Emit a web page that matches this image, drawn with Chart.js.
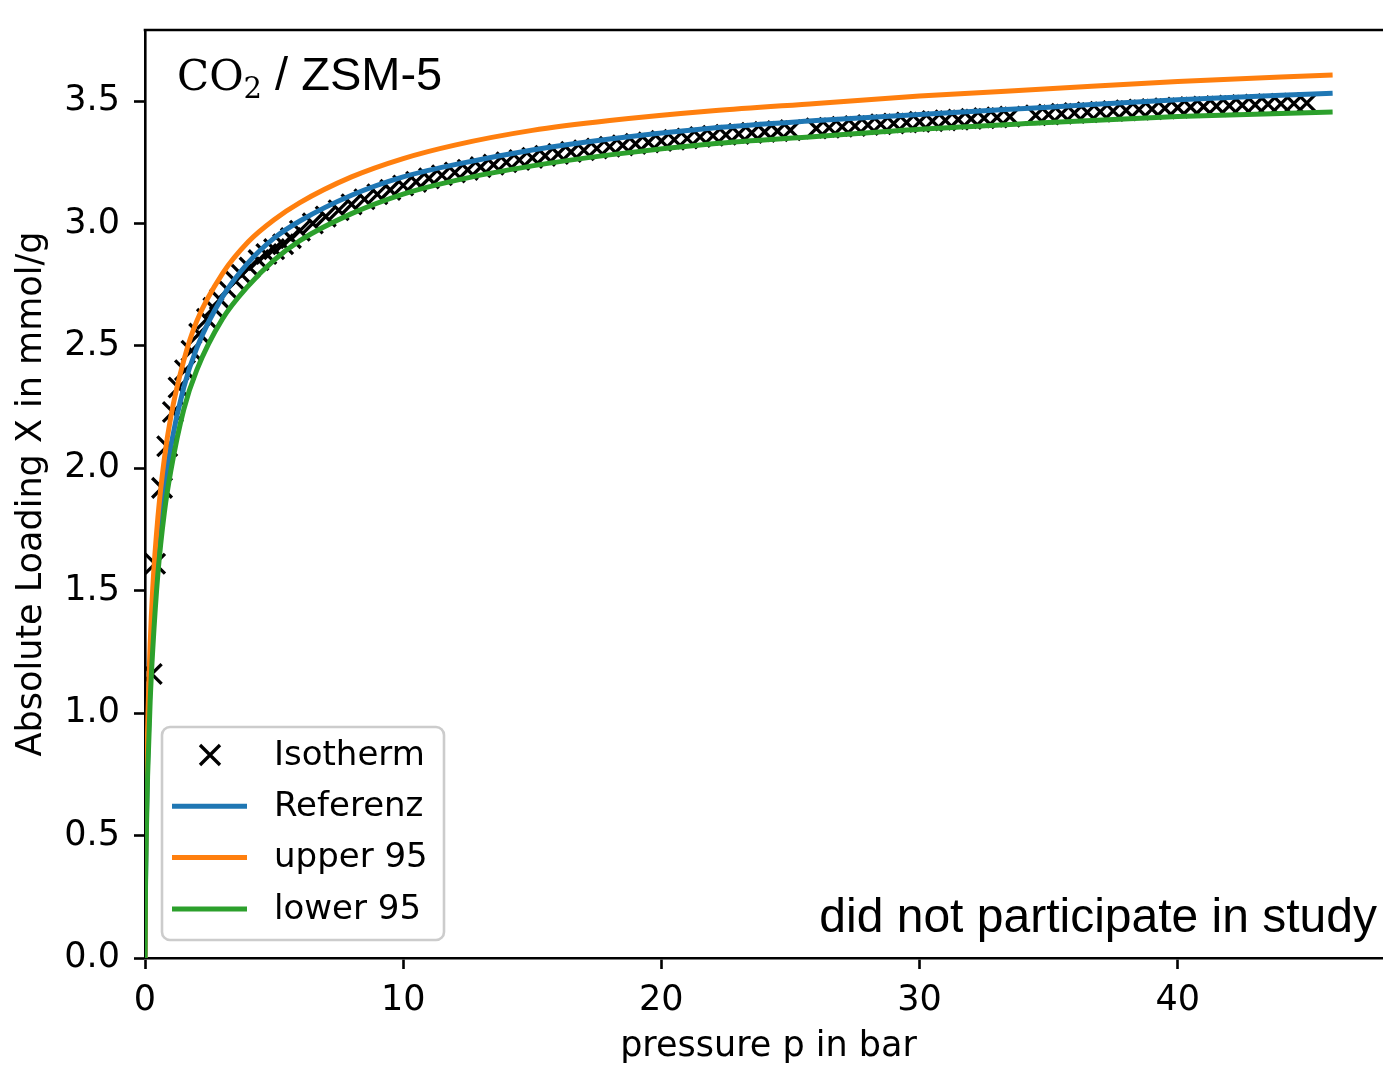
<!DOCTYPE html>
<html>
<head>
<meta charset="utf-8">
<script src="https://cdn.jsdelivr.net/npm/chart.js@4.4.1/dist/chart.umd.min.js"></script>
<style>
  html, body { margin: 0; padding: 0; background: #fff; }
  #wrap { width: 1383px; height: 1068px; overflow: hidden; }
</style>
</head>
<body>
<div id="wrap"><canvas id="isothermChart" width="1392" height="1068"></canvas></div>
<script>
// Fitted curves (pressure in bar, loading in mmol/g)
const fitPressure = [0, 0.02, 0.05, 0.1, 0.2, 0.3, 0.5, 0.75, 1, 1.5, 2, 3, 4, 5, 6, 8, 10, 12, 15, 18, 22, 26, 30, 35, 40, 46];
const referenzLoading = [0, 0.32, 0.55, 0.80, 1.13, 1.35, 1.66, 1.91, 2.09, 2.33, 2.49, 2.70, 2.84, 2.94, 3.01, 3.115, 3.19, 3.24, 3.30, 3.345, 3.39, 3.42, 3.445, 3.475, 3.505, 3.532];
const upper95Loading = [0, 0.38, 0.64, 0.93, 1.28, 1.51, 1.80, 2.04, 2.21, 2.44, 2.60, 2.795, 2.925, 3.015, 3.085, 3.19, 3.265, 3.32, 3.38, 3.42, 3.46, 3.49, 3.52, 3.55, 3.58, 3.606];
const lower95Loading = [0, 0.29, 0.50, 0.74, 1.05, 1.26, 1.57, 1.82, 1.99, 2.24, 2.40, 2.61, 2.745, 2.85, 2.93, 3.04, 3.12, 3.175, 3.235, 3.28, 3.325, 3.355, 3.385, 3.412, 3.437, 3.455];

// Measured isotherm
const isoPressure = [
  0.26, 0.39, 0.66, 0.86, 1.08, 1.30, 1.55, 1.80, 2.10, 2.40, 2.65, 2.90, 3.20, 3.50, 3.75, 4.05, 4.40, 4.70, 5.00, 5.35, 5.65,
  6.0, 6.5, 7.0, 7.5, 8.0, 8.5, 9.0, 9.5, 10.0, 10.5, 11.0, 11.5, 12.0, 12.5, 13.0, 13.5, 14.0, 14.5, 15.0, 15.5,
  16.0, 16.5, 17.0, 17.5, 18.0, 18.5, 19.0, 19.5, 20.0, 20.5, 21.0, 21.5, 22.0, 22.5, 23.0, 23.5, 24.0, 24.5, 25.0,
  26.0, 26.5, 27.0, 27.5, 28.0, 28.5, 29.0, 29.5, 30.0, 30.5, 31.0, 31.5, 32.0, 32.5, 33.0, 33.5,
  34.5, 35.0, 35.5, 36.0, 36.5, 37.0, 37.5, 38.0, 38.5, 39.0, 39.5, 40.0, 40.5, 41.0, 41.5, 42.0, 42.5, 43.0, 43.5, 44.0, 44.5, 45.0
];
const isoLoading = [
  1.16, 1.61, 1.92, 2.09, 2.23, 2.33, 2.40, 2.48, 2.55, 2.61, 2.655, 2.69, 2.73, 2.765, 2.79, 2.82, 2.85, 2.875, 2.895, 2.915, 2.94,
  2.970, 3.000, 3.028, 3.054, 3.078, 3.099, 3.119, 3.137, 3.155, 3.170, 3.184, 3.197, 3.208, 3.219, 3.230, 3.240, 3.250, 3.259, 3.268, 3.276,
  3.284, 3.292, 3.299, 3.306, 3.313, 3.319, 3.325, 3.331, 3.337, 3.342, 3.347, 3.353, 3.358, 3.362, 3.366, 3.370, 3.374, 3.377, 3.381,
  3.388, 3.391, 3.395, 3.398, 3.402, 3.405, 3.408, 3.412, 3.415, 3.418, 3.421, 3.424, 3.427, 3.430, 3.433, 3.436,
  3.442, 3.445, 3.448, 3.451, 3.454, 3.456, 3.459, 3.462, 3.465, 3.467, 3.470, 3.473, 3.475, 3.477, 3.479, 3.481, 3.483, 3.485, 3.487, 3.489, 3.490, 3.492
];

const xTicks = [0, 10, 20, 30, 40];
const yTicks = [0.0, 0.5, 1.0, 1.5, 2.0, 2.5, 3.0, 3.5];

const BLUE = '#1f77b4';
const ORANGE = '#ff7f0e';
const GREEN = '#2ca02c';
const tickFont = { family: "'DejaVu Sans'", size: 35 };

const toPoints = (xs, ys) => xs.map((x, i) => ({ x: x, y: ys[i] }));

function curve(label, values, color, order) {
    return {
        label: label,
        data: toPoints(fitPressure, values),
        showLine: true,
        borderColor: color,
        backgroundColor: color,
        borderWidth: 5,
        pointRadius: 0,
        cubicInterpolationMode: 'monotone',
        order: order
    };
}

// keep the plot box fixed: no extra room for edge labels
function fixBox(s, w, h) {
    if (w) s.width = w;
    if (h) s.height = h;
    s.paddingLeft = 0;
    s.paddingRight = 0;
    s.paddingTop = 0;
    s.paddingBottom = 0;
}

// spine on top, title, note and legend box
const decorations = {
    id: 'decorations',
    afterDraw(chart) {
        const ctx = chart.ctx;
        const a = chart.chartArea;
        ctx.save();

        ctx.strokeStyle = '#000';
        ctx.lineWidth = 2.6;
        ctx.beginPath();
        ctx.moveTo(a.left - 1.3, a.top);
        ctx.lineTo(a.right, a.top);
        ctx.stroke();

        // CO2 / ZSM-5
        ctx.fillStyle = '#000';
        ctx.textBaseline = 'alphabetic';
        ctx.textAlign = 'left';
        let x = a.left + 32;
        const base = a.top + 60;
        ctx.font = "42px 'DejaVu Serif'";
        ctx.fillText('CO', x, base);
        x += ctx.measureText('CO').width;
        ctx.font = "29px 'DejaVu Serif'";
        ctx.fillText('2', x, base + 8);
        x += ctx.measureText('2').width;
        ctx.font = "47px 'Liberation Sans'";
        ctx.fillText(' / ZSM-5', x, base);

        ctx.textAlign = 'right';
        ctx.font = "48px 'Liberation Sans'";
        ctx.fillText('did not participate in study', 1377, a.bottom - 26);

        // legend
        const lx = a.left + 17, ly = 727, lw = 282, lh = 213;
        ctx.beginPath();
        ctx.roundRect(lx, ly, lw, lh, 8);
        ctx.fillStyle = 'rgba(255,255,255,0.8)';
        ctx.fill();
        ctx.strokeStyle = '#cccccc';
        ctx.lineWidth = 2.6;
        ctx.stroke();

        const rows = [
            { label: 'Isotherm', color: '#000', marker: true },
            { label: 'Referenz', color: BLUE },
            { label: 'upper 95', color: ORANGE },
            { label: 'lower 95', color: GREEN }
        ];
        ctx.font = "34px 'DejaVu Sans'";
        ctx.textAlign = 'left';
        ctx.textBaseline = 'middle';
        rows.forEach((r, i) => {
            const cy = ly + 28 + i * 51.3;
            ctx.strokeStyle = r.color;
            ctx.beginPath();
            if (r.marker) {
                ctx.lineWidth = 3.3;
                ctx.moveTo(lx + 38, cy - 10); ctx.lineTo(lx + 58, cy + 10);
                ctx.moveTo(lx + 38, cy + 10); ctx.lineTo(lx + 58, cy - 10);
            } else {
                ctx.lineWidth = 5;
                ctx.moveTo(lx + 10, cy);
                ctx.lineTo(lx + 85, cy);
            }
            ctx.stroke();
            ctx.fillStyle = '#000';
            ctx.fillText(r.label, lx + 112, cy + 1);
        });
        ctx.restore();
    }
};

const ctx = document.getElementById('isothermChart').getContext('2d');
const isothermChart = new Chart(ctx, {
    type: 'scatter',
    data: {
        datasets: [{
            label: 'Isotherm',
            data: toPoints(isoPressure, isoLoading),
            pointStyle: 'crossRot',
            pointRadius: 14,
            pointBorderWidth: 3.3,
            borderColor: '#000',
            backgroundColor: '#000',
            order: 4
        },
        curve('Referenz', referenzLoading, BLUE, 3),
        curve('upper 95', upper95Loading, ORANGE, 2),
        curve('lower 95', lower95Loading, GREEN, 1)]
    },
    options: {
        responsive: false,
        devicePixelRatio: 1,
        animation: false,
        layout: { autoPadding: false, padding: { top: 30, right: 0, left: 0, bottom: 0 } },
        plugins: {
            legend: { display: false },
            tooltip: { enabled: false }
        },
        scales: {
            x: {
                type: 'linear',
                min: 0,
                max: 48.3,
                afterFit: s => fixBox(s, 0, 110),
                afterBuildTicks: s => { s.ticks = xTicks.map(v => ({ value: v })); },
                ticks: { font: tickFont, color: '#000', padding: 11, maxRotation: 0 },
                grid: { drawOnChartArea: false, drawTicks: true, tickLength: 11, tickWidth: 2.6, tickColor: '#000' },
                border: { display: true, color: '#000', width: 2.6 },
                title: {
                    display: true,
                    text: 'pressure p in bar',
                    font: tickFont,
                    color: '#000',
                    padding: { top: 0, bottom: 0 }
                }
            },
            y: {
                type: 'linear',
                min: 0,
                max: 3.79,
                afterFit: s => fixBox(s, 145, 0),
                afterBuildTicks: s => { s.ticks = yTicks.map(v => ({ value: v })); },
                ticks: { font: tickFont, color: '#000', padding: 14, callback: v => v.toFixed(1) },
                grid: { drawOnChartArea: false, drawTicks: true, tickLength: 11, tickWidth: 2.6, tickColor: '#000' },
                border: { display: true, color: '#000', width: 2.6 },
                title: {
                    display: true,
                    text: 'Absolute Loading X in mmol/g',
                    font: tickFont,
                    color: '#000',
                    padding: { top: 11, bottom: 0 }
                }
            }
        }
    },
    plugins: [decorations]
});
</script>
</body>
</html>
